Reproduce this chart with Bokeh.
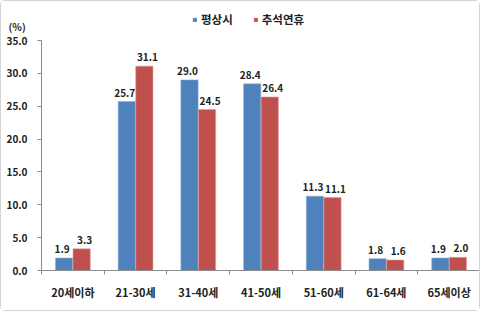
import numpy as np
from bokeh.plotting import figure
from bokeh.models import (ColumnDataSource, FixedTicker, NumeralTickFormatter,
                          Range1d, Label, Legend, LegendItem, LabelSet)
from bokeh.core.properties import value
from bokeh.embed import file_html
from bokeh.resources import INLINE

categories = ["20세이하", "21-30세", "31-40세", "41-50세", "51-60세", "61-64세", "65세이상"]
normal = [1.9, 25.7, 29.0, 28.4, 11.3, 1.8, 1.9]
holiday = [3.3, 31.1, 24.5, 26.4, 11.1, 1.6, 2.0]
series_names = ["평상시", "추석연휴"]
y_ticks = [0, 5, 10, 15, 20, 25, 30, 35]
unit_label = "(%)"

FONT = "Noto Sans CJK KR"
BLUE = "#4F81BD"
RED = "#C0504D"
TXT = "#222222"
AXIS = "#8c8c8c"

W, H = 480, 311
# plot-area placement in pixels (layout only)
left_px, right_px, top_px, bottom_px = 40, 479, 39, 269

n = len(categories)
ymax = y_ticks[-1]
xs = (right_px - left_px) / n
ys = (bottom_px - top_px) / ymax
x_range = Range1d(-left_px / xs, n + (W - right_px) / xs)
y_range = Range1d(-(H - bottom_px) / ys, ymax + top_px / ys)

centers = np.arange(n) + 0.5
off = 0.14
w = 0.275

src = ColumnDataSource(dict(
    xb=centers - off, xr=centers + off,
    normal=normal, holiday=holiday,
    ln=[f"{v:.1f}" for v in normal], lh=[f"{v:.1f}" for v in holiday],
))

p = figure(width=W, height=H, output_backend="svg", toolbar_location=None,
           x_range=x_range, y_range=y_range, min_border=0,
           background_fill_color="white", border_fill_color="white",
           outline_line_color=None)
p.styles = {"border": "1px solid #d4d4d4", "border-radius": "5px", "box-sizing": "border-box"}
p.xgrid.visible = False
p.ygrid.visible = False

rb = p.vbar(x="xb", top="normal", width=w, source=src, fill_color=BLUE,
            line_color="#8fb0d8", line_width=0.6)
rr = p.vbar(x="xr", top="holiday", width=w, source=src, fill_color=RED,
            line_color="#e0a0a0", line_width=0.6)

for xcol, ycol, tcol, dx in (("xb", "normal", "ln", -2), ("xr", "holiday", "lh", 3)):
    p.add_layout(LabelSet(x=xcol, y=ycol, text=tcol, source=src, text_align="center",
                          text_baseline="bottom", y_offset=5, x_offset=dx,
                          text_font=value(FONT), text_font_style="bold",
                          text_font_size="10px", text_color=TXT))

# y axis
ya = p.yaxis[0]
ya.fixed_location = 0
ya.bounds = (0, ymax)
ya.ticker = FixedTicker(ticks=y_ticks, minor_ticks=[])
ya.formatter = NumeralTickFormatter(format="0.0")
ya.axis_line_color = AXIS
ya.major_tick_line_color = AXIS
ya.major_tick_out = 4
ya.major_tick_in = 0
ya.minor_tick_line_color = None
ya.major_label_standoff = 10
ya.major_label_text_font = FONT
ya.major_label_text_font_style = "bold"
ya.major_label_text_font_size = "10px"
ya.major_label_text_color = TXT

# x axis
xa = p.xaxis[0]
xa.fixed_location = 0
xa.bounds = (0, n)
xa.ticker = FixedTicker(ticks=list(centers), minor_ticks=list(np.arange(n + 1)))
xa.major_label_overrides = {float(c): lab for c, lab in zip(centers, categories)}
xa.axis_line_color = AXIS
xa.major_tick_line_color = None
xa.major_tick_out = 0
xa.major_tick_in = 0
xa.minor_tick_line_color = AXIS
xa.minor_tick_out = 4
xa.minor_tick_in = 0
xa.major_label_standoff = 9
xa.major_label_text_font = FONT
xa.major_label_text_font_style = "bold"
xa.major_label_text_font_size = "11px"
xa.major_label_text_color = TXT

p.add_layout(Label(x=7, y=H - 25, x_units="screen", y_units="screen",
                   text=unit_label, text_font=FONT, text_font_style="bold",
                   text_baseline="middle", text_font_size="10px", text_color=TXT))

legend = Legend(items=[LegendItem(label=series_names[0], renderers=[rb]),
                       LegendItem(label=series_names[1], renderers=[rr])],
                orientation="horizontal", location=(191, H - 26),
                glyph_width=5, glyph_height=5, label_text_font=FONT,
                label_text_font_style="bold", label_text_font_size="11.5px",
                label_text_color=TXT, spacing=20, label_standoff=4,
                border_line_color=None, background_fill_alpha=0, padding=0, margin=0)
p.add_layout(legend, "center")

open("out.html", "w").write(file_html(p, INLINE))
